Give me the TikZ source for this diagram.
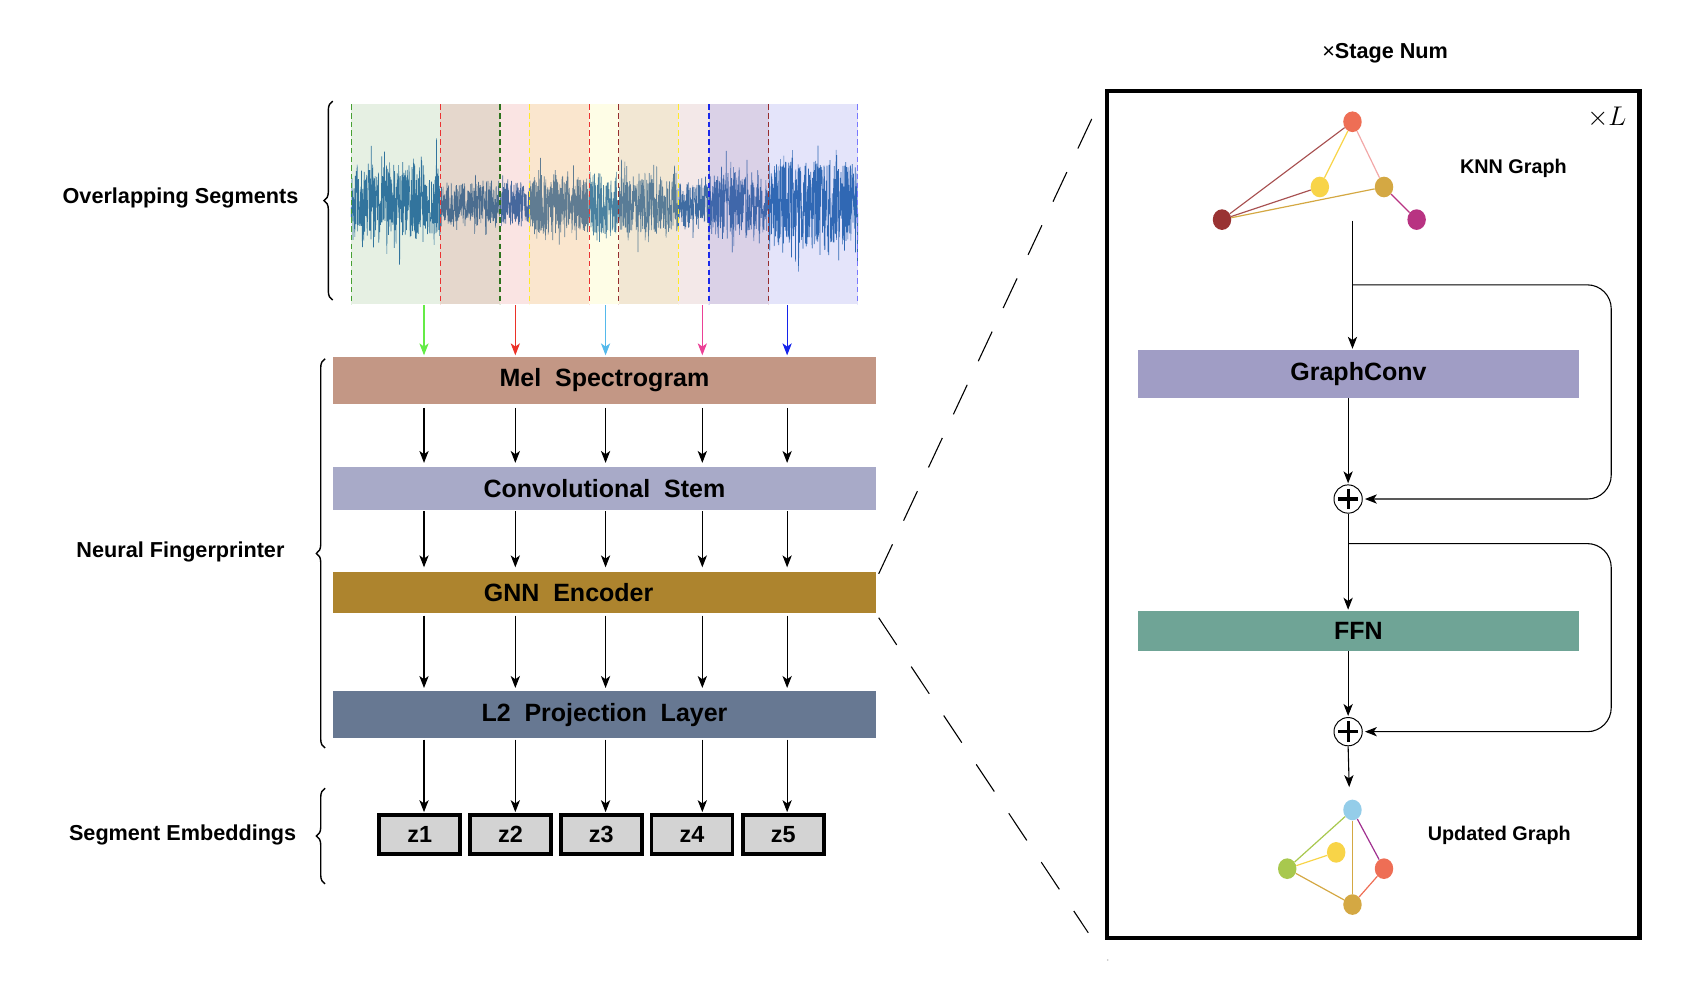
\documentclass[tikz,border=0pt]{standalone}
\usepackage{fontspec}
\setmainfont{Liberation Sans}
\usetikzlibrary{arrows.meta,decorations.pathreplacing,shapes.geometric,calc}

\definecolor{melc}{RGB}{195,151,133}
\definecolor{convc}{RGB}{168,170,200}
\definecolor{gnnc}{RGB}{173,132,46}
\definecolor{ltwoc}{RGB}{103,120,146}
\definecolor{gcc}{RGB}{160,157,197}
\definecolor{ffnc}{RGB}{111,164,150}
\definecolor{zc}{RGB}{211,211,211}
\definecolor{wavec}{RGB}{44,110,173}
\definecolor{sega}{RGB}{88,155,69}
\definecolor{segb}{RGB}{222,75,68}
\definecolor{segc}{RGB}{248,242,88}
\definecolor{segd}{RGB}{175,102,102}
\definecolor{sege}{RGB}{75,75,222}
\definecolor{dgreenl}{RGB}{70,160,50}
\definecolor{dred}{RGB}{235,50,50}
\definecolor{dgreen}{RGB}{45,115,30}
\definecolor{dyellow}{RGB}{255,235,40}
\definecolor{ddred}{RGB}{150,45,45}
\definecolor{dblue}{RGB}{25,40,235}
\definecolor{dlblue}{RGB}{120,120,255}
\definecolor{agreen}{RGB}{100,235,70}
\definecolor{ared}{RGB}{235,50,40}
\definecolor{alblue}{RGB}{85,185,235}
\definecolor{apink}{RGB}{235,65,150}
\definecolor{ablue}{RGB}{20,35,235}
\definecolor{ncoral}{RGB}{238,110,85}
\definecolor{nyellow}{RGB}{248,212,72}
\definecolor{ngold}{RGB}{212,168,67}
\definecolor{ndred}{RGB}{153,51,51}
\definecolor{nmag}{RGB}{184,51,130}
\definecolor{nlblue}{RGB}{148,205,233}
\definecolor{ngreen}{RGB}{168,200,78}
\definecolor{epink}{RGB}{242,168,168}
\definecolor{epurple}{RGB}{160,48,143}

\begin{document}
\begin{tikzpicture}[x=1pt,y=-1pt,
  arr/.style={-{Stealth[length=11pt,width=8.5pt,inset=3pt]}, line width=1pt},
  layerbox/.style={minimum width=500pt, inner sep=0pt, draw=none, font=\fontsize{23}{27}\selectfont\bfseries},
  rbox/.style={minimum width=405pt, inner sep=0pt, draw=none, font=\fontsize{23}{27}\selectfont\bfseries},
  zbox/.style={draw=black, line width=3.5pt, fill=zc, minimum width=74.5pt, minimum height=35.5pt, inner sep=0pt, font=\fontsize{21.5}{26}\selectfont\bfseries},
  sidelabel/.style={font=\fontsize{19.9}{24}\selectfont\bfseries, inner sep=0pt},
  glabel/.style={font=\fontsize{18.2}{22}\selectfont\bfseries, inner sep=0pt},
  bracestyle/.style={decorate, decoration={brace, amplitude=8pt}, line width=1.3pt},
  segdash/.style={dash pattern=on 5pt off 3pt, line width=1.4pt},
  gnode/.style={ellipse, minimum width=17pt, minimum height=19pt, inner sep=0pt, draw=none},
  gedge/.style={line width=1.1pt},
  oplusnode/.style={circle, draw=black, line width=0.9pt, minimum size=26pt, inner sep=0pt, fill=white,
    path picture={\draw[line width=3pt,line cap=butt] ([xshift=3.5pt]path picture bounding box.west) -- ([xshift=-3.5pt]path picture bounding box.east);
      \draw[line width=3pt,line cap=butt] ([yshift=-3.5pt]path picture bounding box.north) -- ([yshift=3.5pt]path picture bounding box.south);}},
  zoomdash/.style={dash pattern=on 30pt off 24pt, line width=1pt},
  skip/.style={line width=1pt, rounded corners=22pt},
  declare function={env(\t)=(\t<405) ? 56 : ((\t<460) ? 32 : ((\t<487) ? 34 : ((\t<542) ? 43 : ((\t<569) ? 46 : ((\t<624) ? 43 : ((\t<652) ? 33 : ((\t<707) ? 46 : 66)))))));}
]
\useasboundingbox (0,0) rectangle (1565.5,908.8);

% ---------- waveform ----------
\pgfmathsetseed{11}
\draw[wavec, line width=0.6pt, line join=bevel] plot[samples=2200, domain=323:789] (\x, {188 + env(\x)*rand*(0.55 + 0.8*rnd*rnd*rnd)});
% overlapping segment tints
\fill[sega, fill opacity=0.15] (323,96) rectangle (460,280);
\fill[segb, fill opacity=0.15] (405,96) rectangle (542,280);
\fill[segc, fill opacity=0.15] (487,96) rectangle (624,280);
\fill[segd, fill opacity=0.15] (569,96) rectangle (707,280);
\fill[sege, fill opacity=0.15] (652,96) rectangle (789,280);
% segment borders
\draw[segdash, dgreenl, line width=1.1pt] (323,96) -- (323,280);
\draw[segdash, dred] (405,96) -- (405,280);
\draw[segdash, dgreen] (460,96) -- (460,280);
\draw[segdash, dyellow] (487,96) -- (487,280);
\draw[segdash, dred] (542,96) -- (542,280);
\draw[segdash, ddred] (569,96) -- (569,280);
\draw[segdash, dyellow] (624,96) -- (624,280);
\draw[segdash, dblue] (652,96) -- (652,280);
\draw[segdash, ddred] (707,96) -- (707,280);
\draw[segdash, dlblue, line width=1.1pt] (789,96) -- (789,280);

% ---------- side labels and braces ----------
\node[sidelabel] (lovl) at (166,182) {Overlapping Segments};
\node[sidelabel] (lneu) at (166,508) {Neural Fingerprinter};
\node[sidelabel] (lseg) at (168,768) {Segment Embeddings};
\draw[bracestyle] (306,276) -- (306,93);
\draw[bracestyle] (299,688) -- (299,330);
\draw[bracestyle] (299,813) -- (299,725);

% ---------- layer boxes ----------
\node[layerbox, fill=melc, minimum height=44pt] (mel) at (556,350) {Mel\ \ Spectrogram};
\node[layerbox, fill=convc, minimum height=39pt] (conv) at (556,449.5) {Convolutional\ \ Stem};
\node[layerbox, fill=gnnc, minimum height=38pt] (gnn) at (556,545) {};
\node[font=\fontsize{23}{27}\selectfont\bfseries, inner sep=0pt] (gnnlab) at (523,545) {GNN\ \ Encoder};
\node[layerbox, fill=ltwoc, minimum height=43pt] (ltwo) at (556,657.5) {L2\ \ Projection\ \ Layer};

% ---------- embeddings ----------
\node[zbox] (z1) at (386,767.5) {z1};
\node[zbox] (z2) at (469.5,767.5) {z2};
\node[zbox] (z3) at (553,767.5) {z3};
\node[zbox] (z4) at (636.5,767.5) {z4};
\node[zbox] (z5) at (720.5,767.5) {z5};

% ---------- column arrows ----------
\coordinate (c1) at (390,281);
\coordinate (c2) at (474,281);
\coordinate (c3) at (557,281);
\coordinate (c4) at (646,281);
\coordinate (c5) at (724,281);
\draw[arr, agreen] (c1) -- ([yshift=1pt]c1 |- mel.north);
\draw[arr, ared] (c2) -- ([yshift=1pt]c2 |- mel.north);
\draw[arr, alblue] (c3) -- ([yshift=1pt]c3 |- mel.north);
\draw[arr, apink] (c4) -- ([yshift=1pt]c4 |- mel.north);
\draw[arr, ablue] (c5) -- ([yshift=1pt]c5 |- mel.north);
\foreach \i in {1,...,5}{
  \draw[arr, shorten <=3pt, shorten >=4pt] (c\i |- mel.south) -- (c\i |- conv.north);
  \draw[arr, shorten <=1pt, shorten >=4pt] (c\i |- conv.south) -- (c\i |- gnn.north);
  \draw[arr, shorten <=2pt, shorten >=3pt] (c\i |- gnn.south) -- (c\i |- ltwo.north);
  \draw[arr, shorten <=1pt, shorten >=1pt] (c\i |- ltwo.south) -- (c\i |- z\i.north);
}

% ---------- zoom lines ----------
\coordinate (zt) at (1010,97);
\coordinate (zb) at (1001,858);
\draw[zoomdash] ([xshift=2pt,yshift=-2pt]gnn.north east) -- (zt);
\draw[zoomdash] ([xshift=2pt,yshift=-4pt]gnn.south east) -- (zb);

% ---------- right panel ----------
\node[draw=black, line width=4pt, minimum width=490pt, minimum height=779pt, inner sep=0pt] (panel) at (1263,473.5) {};
\node[font=\fontsize{19.9}{24}\selectfont\bfseries, inner sep=0pt] (stage) at (1274,49) {{\mdseries ×}Stage Num};
\node[font=\fontsize{24}{28}\selectfont, inner sep=0pt] (xl) at (1478,108) {$\times L$};
\fill[black!25] (1019,883) circle (0.8pt);

% KNN graph
\node[gnode, fill=ncoral] (a1) at (1244,112) {};
\node[gnode, fill=nyellow] (a2) at (1214,172) {};
\node[gnode, fill=ngold] (a3) at (1273,172) {};
\node[gnode, fill=ndred] (a4) at (1124,202) {};
\node[gnode, fill=nmag] (a5) at (1303,202) {};
\draw[gedge, ndred!85] (a1) -- (a4);
\draw[gedge, nyellow] (a1) -- (a2);
\draw[gedge, epink] (a1) -- (a3);
\draw[gedge, ndred!85] (a4) -- (a2);
\draw[gedge, ngold] (a4) -- (a3);
\draw[gedge, nmag] (a3) -- (a5);
\node[glabel] (knn) at (1392,155) {KNN Graph};

% blocks
\node[rbox, fill=gcc, minimum height=44pt] (gc) at (1249.5,344) {GraphConv};
\node[rbox, fill=ffnc, minimum height=37pt] (ffn) at (1249.5,580.5) {FFN};
\node[oplusnode] (p1) at (1240,459) {};
\node[oplusnode] (p2) at (1240,673) {};

\coordinate (k0) at (1244,203);
\coordinate (s1) at (1244,262);
\coordinate (s2) at (1241,500);
\coordinate (outc) at (1241,724);
\draw[arr, shorten >=1pt] (k0) -- (k0 |- gc.north);
\draw[skip, -{Stealth[length=11pt,width=8.5pt,inset=3pt]}, shorten >=2pt] (s1) -- (1482,262) -- (1482,459) -- (p1.east);
\draw[arr, shorten >=1pt] (gc.south -| p1) -- (p1.north);
\draw[arr, shorten >=1pt] (p1.south) -- (p1 |- ffn.north);
\draw[skip, -{Stealth[length=11pt,width=8.5pt,inset=3pt]}, shorten >=2pt] (s2) -- (1482,500) -- (1482,673) -- (p2.east);
\draw[arr, shorten >=1pt] (ffn.south -| p2) -- (p2.north);
\draw[arr] (p2.south) -- (outc);

% updated graph
\node[gnode, fill=nlblue] (b1) at (1244,745) {};
\node[gnode, fill=nyellow] (b2) at (1229,784) {};
\node[gnode, fill=ngreen] (b3) at (1184,799) {};
\node[gnode, fill=ncoral] (b4) at (1273,799) {};
\node[gnode, fill=ngold] (b5) at (1244,832) {};
\draw[gedge, ngreen] (b1) -- (b3);
\draw[gedge, epurple] (b1) -- (b4);
\draw[gedge, ngold] (b1) -- (b5);
\draw[gedge, nyellow] (b3) -- (b2);
\draw[gedge, ngold] (b3) -- (b5);
\draw[gedge, ncoral] (b4) -- (b5);
\node[glabel] (upd) at (1379,768) {Updated Graph};
\end{tikzpicture}
\end{document}
